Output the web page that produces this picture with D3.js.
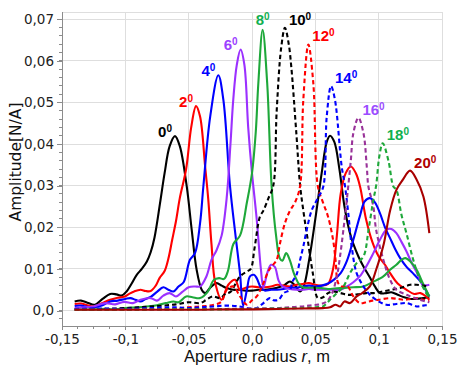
<!DOCTYPE html>
<html><head><meta charset="utf-8">
<script src="https://cdn.jsdelivr.net/npm/d3@7"></script>
<style>body{margin:0;background:#fff}svg{display:block}</style>
</head><body><svg id="c" width="459" height="370"></svg>
<script>
// ---- data ----
const angles = ["0","2","4","6","8","10","12","14","16","18","20"];
const xTicks = [-0.15,-0.1,-0.05,0,0.05,0.1,0.15];
const xTickLabels = ["-0,15","-0,1","-0,05","0,0","0,05","0,1","0,15"];
const yTicks = [0,0.01,0.02,0.03,0.04,0.05,0.06,0.07];
const yTickLabels = ["0,0","0,01","0,02","0,03","0,04","0,05","0,06","0,07"];

const s0 = [[-0.14,0.0022],[-0.135,0.0024],[-0.13,0.0019],[-0.124,0.0014],[-0.118,0.0028],[-0.112,0.0040],[-0.107,0.0039],[-0.103,0.0036],[-0.099,0.0046],[-0.095,0.0065],[-0.091,0.0086],[-0.087,0.0100],[-0.083,0.0118],[-0.080,0.0140],[-0.077,0.0175],[-0.0726,0.0258],[-0.069,0.0330],[-0.065,0.0395],[-0.0608,0.0419],[-0.057,0.0395],[-0.0516,0.0300],[-0.0476,0.0194],[-0.0437,0.0098],[-0.0397,0.0050],[-0.037,0.0042],[-0.033,0.0055],[-0.028,0.0066],[-0.024,0.0060],[-0.020,0.0054],[-0.015,0.0050],[-0.010,0.0050],[-0.005,0.0048],[0.0,0.0048],[0.005,0.0050],[0.01,0.0050],[0.015,0.0052],[0.02,0.0055],[0.025,0.0060],[0.03,0.0070],[0.034,0.0060],[0.038,0.0046],[0.041,0.0060],[0.045,0.0120],[0.050,0.0220],[0.055,0.0330],[0.059,0.0405],[0.0616,0.0420],[0.065,0.0405],[0.069,0.0340],[0.073,0.0250],[0.077,0.0190],[0.080,0.0160],[0.084,0.0130],[0.088,0.0106],[0.093,0.0080],[0.097,0.0058],[0.101,0.0042],[0.106,0.0042],[0.110,0.0044],[0.115,0.0038],[0.120,0.0032],[0.125,0.0028],[0.130,0.0028],[0.135,0.0030],[0.140,0.0032]];
const s2 = [[-0.14,0.0016],[-0.135,0.0017],[-0.13,0.0013],[-0.125,0.0010],[-0.119,0.0017],[-0.112,0.0026],[-0.106,0.0031],[-0.101,0.0033],[-0.097,0.0040],[-0.093,0.0046],[-0.088,0.0050],[-0.084,0.0047],[-0.080,0.0047],[-0.076,0.0060],[-0.073,0.0078],[-0.069,0.0095],[-0.066,0.0125],[-0.063,0.0170],[-0.060,0.0215],[-0.057,0.0270],[-0.052,0.0340],[-0.048,0.0440],[-0.0442,0.0491],[-0.041,0.0466],[-0.037,0.0346],[-0.0345,0.0266],[-0.032,0.0160],[-0.029,0.0066],[-0.024,0.0026],[-0.0187,0.0062],[-0.0134,0.0074],[-0.0095,0.0050],[-0.005,0.0055],[0.0,0.0058],[0.005,0.0056],[0.01,0.0056],[0.015,0.0058],[0.02,0.0062],[0.025,0.0060],[0.03,0.0058],[0.035,0.0062],[0.04,0.0064],[0.045,0.0066],[0.05,0.0062],[0.055,0.0060],[0.060,0.0064],[0.064,0.0100],[0.067,0.0180],[0.070,0.0280],[0.074,0.0330],[0.078,0.0346],[0.082,0.0330],[0.0853,0.0298],[0.090,0.0220],[0.095,0.0165],[0.100,0.0130],[0.105,0.0110],[0.109,0.0090],[0.115,0.0065],[0.122,0.0050],[0.128,0.0040],[0.133,0.0042],[0.137,0.0035],[0.140,0.0026]];
const s4 = [[-0.14,0.0011],[-0.135,0.0012],[-0.13,0.0009],[-0.125,0.0008],[-0.118,0.0013],[-0.112,0.0022],[-0.106,0.0024],[-0.100,0.0028],[-0.096,0.0030],[-0.092,0.0026],[-0.088,0.0022],[-0.084,0.0028],[-0.080,0.0033],[-0.075,0.0045],[-0.070,0.0056],[-0.066,0.0050],[-0.062,0.0046],[-0.058,0.0058],[-0.054,0.0068],[-0.049,0.0122],[-0.045,0.0138],[-0.041,0.0210],[-0.0384,0.0298],[-0.033,0.0466],[-0.0266,0.0565],[-0.0226,0.0506],[-0.0174,0.0300],[-0.013,0.0180],[-0.0095,0.0090],[-0.007,0.0012],[-0.004,0.0050],[-0.0016,0.0082],[0.0015,0.0086],[0.0037,0.0078],[0.007,0.0055],[0.01,0.0048],[0.015,0.0050],[0.02,0.0050],[0.025,0.0052],[0.03,0.0055],[0.035,0.0055],[0.04,0.0058],[0.045,0.0060],[0.05,0.0058],[0.055,0.0060],[0.060,0.0065],[0.065,0.0075],[0.070,0.0090],[0.075,0.0120],[0.080,0.0170],[0.085,0.0225],[0.089,0.0262],[0.093,0.0270],[0.097,0.0260],[0.101,0.0234],[0.105,0.0200],[0.109,0.0174],[0.113,0.0148],[0.117,0.0126],[0.122,0.0105],[0.127,0.0090],[0.133,0.0070],[0.137,0.0050],[0.140,0.0034]];
const s6 = [[-0.14,0.0006],[-0.132,0.0008],[-0.125,0.0010],[-0.119,0.0016],[-0.115,0.0018],[-0.108,0.0015],[-0.101,0.0021],[-0.094,0.0018],[-0.088,0.0026],[-0.080,0.0030],[-0.075,0.0024],[-0.070,0.0036],[-0.065,0.0042],[-0.060,0.0034],[-0.055,0.0045],[-0.050,0.0056],[-0.045,0.0058],[-0.041,0.0058],[-0.036,0.0082],[-0.032,0.0122],[-0.028,0.0145],[-0.024,0.0180],[-0.020,0.0270],[-0.017,0.0400],[-0.0148,0.0506],[-0.012,0.0590],[-0.009,0.0627],[-0.006,0.0590],[-0.003,0.0440],[0.0,0.0330],[0.0037,0.0220],[0.007,0.0100],[0.009,0.0055],[0.012,0.0090],[0.015,0.0110],[0.018,0.0105],[0.021,0.0072],[0.024,0.0058],[0.03,0.0052],[0.035,0.0050],[0.04,0.0050],[0.045,0.0052],[0.05,0.0050],[0.055,0.0050],[0.06,0.0050],[0.065,0.0050],[0.0695,0.0050],[0.075,0.0058],[0.080,0.0068],[0.085,0.0082],[0.090,0.0105],[0.0958,0.0138],[0.101,0.0170],[0.106,0.0194],[0.110,0.0196],[0.114,0.0186],[0.118,0.0165],[0.122,0.0142],[0.126,0.0115],[0.131,0.0086],[0.135,0.0062],[0.140,0.0062]];
const s8 = [[-0.14,0.0002],[-0.125,0.0003],[-0.115,0.0004],[-0.11,0.0003],[-0.1,0.0006],[-0.09,0.0008],[-0.083,0.0010],[-0.075,0.0013],[-0.068,0.0018],[-0.062,0.0022],[-0.058,0.0020],[-0.052,0.0034],[-0.047,0.0032],[-0.041,0.0030],[-0.035,0.0045],[-0.030,0.0074],[-0.026,0.0078],[-0.022,0.0076],[-0.019,0.0095],[-0.0147,0.0160],[-0.0095,0.0180],[-0.004,0.0260],[0.0,0.0330],[0.003,0.0430],[0.005,0.0546],[0.0084,0.0674],[0.012,0.0546],[0.0155,0.0298],[0.019,0.0180],[0.022,0.0125],[0.024,0.0120],[0.027,0.0138],[0.030,0.0120],[0.033,0.0090],[0.037,0.0064],[0.040,0.0056],[0.045,0.0055],[0.05,0.0055],[0.055,0.0054],[0.06,0.0052],[0.065,0.0053],[0.0695,0.0054],[0.075,0.0055],[0.080,0.0056],[0.088,0.0058],[0.095,0.0068],[0.1037,0.0082],[0.109,0.0098],[0.114,0.0110],[0.118,0.0122],[0.121,0.0126],[0.125,0.0118],[0.130,0.0098],[0.135,0.0065],[0.140,0.0034]];
const s10 = [[-0.14,0.0003],[-0.12,0.0004],[-0.1,0.0006],[-0.09,0.0008],[-0.08,0.0010],[-0.07,0.0012],[-0.06,0.0015],[-0.05,0.0020],[-0.041,0.0018],[-0.036,0.0026],[-0.031,0.0034],[-0.025,0.0030],[-0.021,0.0040],[-0.017,0.0045],[-0.0095,0.0082],[-0.004,0.0094],[-0.001,0.0100],[0.002,0.0150],[0.0063,0.0226],[0.009,0.0240],[0.013,0.0270],[0.0168,0.0300],[0.0195,0.0480],[0.023,0.0630],[0.026,0.0679],[0.029,0.0640],[0.031,0.0586],[0.035,0.0426],[0.038,0.0300],[0.041,0.0230],[0.044,0.0170],[0.048,0.0090],[0.052,0.0030],[0.056,0.0032],[0.060,0.0042],[0.064,0.0046],[0.07,0.0042],[0.075,0.0038],[0.08,0.0038],[0.085,0.0040],[0.09,0.0042],[0.0958,0.0042],[0.1037,0.0046],[0.11,0.0050],[0.117,0.0054],[0.125,0.0062],[0.13,0.0062],[0.135,0.0060],[0.14,0.0058]];
const s12 = [[-0.14,0.0002],[-0.12,0.0002],[-0.1,0.0003],[-0.08,0.0004],[-0.06,0.0005],[-0.05,0.0008],[-0.04,0.0010],[-0.03,0.0014],[-0.024,0.0022],[-0.020,0.0050],[-0.0147,0.0058],[-0.0095,0.0034],[-0.004,0.0014],[0.0,0.0025],[0.0037,0.0034],[0.009,0.0066],[0.013,0.0095],[0.0155,0.0106],[0.0195,0.0122],[0.022,0.0160],[0.026,0.0210],[0.030,0.0240],[0.034,0.0260],[0.0379,0.0298],[0.0405,0.0506],[0.0445,0.0639],[0.0484,0.0546],[0.052,0.0298],[0.056,0.0260],[0.060,0.0226],[0.064,0.0170],[0.066,0.0120],[0.068,0.0066],[0.071,0.0058],[0.075,0.0060],[0.08,0.0034],[0.085,0.0018],[0.09,0.0020],[0.095,0.0024],[0.1,0.0026],[0.109,0.0030],[0.115,0.0028],[0.12,0.0026],[0.125,0.0028],[0.13,0.0030],[0.135,0.0026],[0.14,0.0024]];
const s14 = [[-0.14,0.0004],[-0.12,0.0005],[-0.1,0.0004],[-0.08,0.0006],[-0.06,0.0008],[-0.05,0.0006],[-0.04,0.0008],[-0.03,0.0010],[-0.02,0.0012],[-0.01,0.0010],[-0.004,0.0006],[0.0037,0.0006],[0.009,0.0018],[0.014,0.0030],[0.017,0.0025],[0.021,0.0026],[0.025,0.0042],[0.030,0.0050],[0.032,0.0070],[0.035,0.0085],[0.038,0.0122],[0.0405,0.0154],[0.0432,0.0194],[0.047,0.0240],[0.052,0.0270],[0.0563,0.0298],[0.059,0.0466],[0.0624,0.0539],[0.0655,0.0506],[0.0708,0.0346],[0.0734,0.0300],[0.076,0.0234],[0.0787,0.0154],[0.0826,0.0090],[0.088,0.0058],[0.093,0.0038],[0.098,0.0026],[0.106,0.0014],[0.114,0.0016],[0.122,0.0018],[0.13,0.0010],[0.135,0.0012],[0.14,0.0014]];
const s16 = [[-0.14,0.0002],[-0.1,0.0002],[-0.06,0.0003],[-0.02,0.0004],[0.0,0.0005],[0.02,0.0006],[0.03,0.0008],[0.04,0.0010],[0.045,0.0012],[0.051,0.0014],[0.055,0.0016],[0.059,0.0022],[0.063,0.0040],[0.067,0.0082],[0.0695,0.0130],[0.072,0.0190],[0.075,0.0270],[0.078,0.0360],[0.080,0.0426],[0.084,0.0463],[0.088,0.0426],[0.0906,0.0346],[0.0919,0.0298],[0.0958,0.0250],[0.098,0.0194],[0.1037,0.0122],[0.109,0.0074],[0.114,0.0050],[0.122,0.0038],[0.1326,0.0026],[0.14,0.0020]];
const s18 = [[-0.14,0.0002],[-0.1,0.0002],[-0.06,0.0003],[-0.02,0.0003],[0.0,0.0004],[0.02,0.0005],[0.04,0.0006],[0.05,0.0008],[0.056,0.0010],[0.0616,0.0026],[0.067,0.0042],[0.0722,0.0058],[0.0774,0.0090],[0.0826,0.0114],[0.088,0.0130],[0.092,0.0194],[0.0958,0.0266],[0.098,0.0300],[0.1005,0.0370],[0.1032,0.0402],[0.1077,0.0360],[0.1116,0.0298],[0.114,0.0290],[0.118,0.0230],[0.122,0.0185],[0.127,0.0125],[0.132,0.0078],[0.136,0.0050],[0.14,0.0030]];
const s20 = [[-0.14,0.0002],[-0.12,0.0002],[-0.1,0.0002],[-0.08,0.0002],[-0.06,0.0002],[-0.04,0.0002],[-0.02,0.0003],[0.0,0.0003],[0.02,0.0004],[0.04,0.0005],[0.056,0.0006],[0.0616,0.0008],[0.066,0.0014],[0.0695,0.0010],[0.073,0.0022],[0.0774,0.0018],[0.0826,0.0034],[0.087,0.0042],[0.093,0.0058],[0.098,0.0098],[0.104,0.0160],[0.109,0.0240],[0.114,0.0290],[0.119,0.0314],[0.1248,0.0336],[0.13,0.0314],[0.1353,0.0274],[0.14,0.0186]];
const seriesValues = [s0,s2,s4,s6,s8,s10,s12,s14,s16,s18,s20];

// ---- styles ----
const lineColors = ["#000000","#ff0000","#0000ff","#9b30ff","#1ea83a","#000000","#ff0000","#0000ff","#993399","#1ea83a","#a80000"];
const labelColors = ["#000000","#ff0000","#0000ff","#9b40ff","#10b050","#000000","#ff0000","#0000ff","#9b4dff","#10b050","#b00000"];
const dashed = [false,false,false,false,false,true,true,true,true,true,false];

const svg = d3.select("#c");
const L=62,R=442,T=12,B=326;
const x = d3.scaleLinear().domain([-0.15,0.15]).range([L,R]);
const y = d3.scaleLinear().domain([-0.0037,0.0717]).range([B,T]);

// grid
const g = svg.append("g");
g.selectAll(".vg").data(xTicks.slice(1)).join("line")
  .attr("x1",d=>x(d)).attr("x2",d=>x(d)).attr("y1",T).attr("y2",B)
  .attr("stroke","#dedede").attr("stroke-width",1).attr("shape-rendering","crispEdges");
g.selectAll(".hg").data(yTicks).join("line")
  .attr("x1",L).attr("x2",R).attr("y1",d=>y(d)).attr("y2",d=>y(d))
  .attr("stroke","#dedede").attr("stroke-width",1).attr("shape-rendering","crispEdges");
g.append("line").attr("x1",L).attr("x2",R).attr("y1",T).attr("y2",T)
  .attr("stroke","#dedede").attr("shape-rendering","crispEdges");

// axes
const fmtY = d3.scaleOrdinal().domain(yTicks).range(yTickLabels);
const fmtX = d3.scaleOrdinal().domain(xTicks).range(xTickLabels);
const yAxis = d3.axisLeft(y).tickValues(yTicks).tickFormat(d=>fmtY(d)).tickSize(5).tickPadding(3);
const xAxis = d3.axisBottom(x).tickValues(xTicks).tickFormat(d=>fmtX(d)).tickSize(4).tickPadding(4);
const ya = svg.append("g").attr("transform",`translate(${L},0)`).call(yAxis);
const xa = svg.append("g").attr("transform",`translate(0,${B})`).call(xAxis);
ya.select(".domain").attr("d",`M0,${T}V${B}`);
xa.select(".domain").attr("d",`M${L},0H${R}`);
[ya,xa].forEach(a=>{
  a.selectAll(".domain,.tick line").attr("stroke","#8c8c8c").attr("shape-rendering","crispEdges");
  a.selectAll("text").attr("fill","#222").style("font-family","'DejaVu Sans'").style("font-size","13.5px");
});
// minor ticks
const yMinor = d3.range(-0.002,0.0717,0.002).filter(v=>v>-0.0037);
svg.append("g").selectAll("line").data(yMinor).join("line")
  .attr("x1",L-3).attr("x2",L).attr("y1",d=>y(d)).attr("y2",d=>y(d))
  .attr("stroke","#8c8c8c").attr("shape-rendering","crispEdges");
const xMinor = d3.range(-0.15,0.1501,0.0125);
svg.append("g").selectAll("line").data(xMinor).join("line")
  .attr("x1",d=>x(d)).attr("x2",d=>x(d)).attr("y1",B).attr("y2",B+2.5)
  .attr("stroke","#8c8c8c").attr("shape-rendering","crispEdges");

// clip
svg.append("clipPath").attr("id","clip").append("rect").attr("x",L).attr("y",T).attr("width",R-L).attr("height",B-T);

// lines
const line = d3.line().x(d=>x(d[0])).y(d=>y(d[1])).curve(d3.curveCatmullRom.alpha(0.5));
const lg = svg.append("g").attr("clip-path","url(#clip)");
seriesValues.forEach((s,i)=>{
  lg.append("path").datum(s).attr("d",line).attr("fill","none")
    .attr("stroke",lineColors[i]).attr("stroke-width",2.1)
    .attr("stroke-linejoin","round")
    .attr("stroke-dasharray",dashed[i]?"4.5,3":null);
});

// labels at main peaks (solid 0-8 deg: left peak)
seriesValues.forEach((s,i)=>{
  const pool = i<5 ? s.filter(d=>d[0]<0.03) : s;
  const pk = pool.reduce((a,b)=>b[1]>a[1]?b:a);
  let px=x(pk[0]), py=y(pk[1]), anchor;
  if(i<4){anchor="end"; px-=3; py+=1;}
  else if(i===4){anchor="middle"; py-=5;}
  else {anchor="start"; px+=4; py-=3;}
  const t = svg.append("text").attr("x",px).attr("y",py).attr("text-anchor",anchor)
    .attr("fill",labelColors[i]).style("font-family","'Liberation Sans', Arial, sans-serif")
    .style("font-weight","bold").style("font-size","15px");
  t.append("tspan").text(angles[i]);
  t.append("tspan").attr("dy",-5).style("font-size","10px").text("0");
});

// axis titles
const xt = svg.append("text").attr("x",(L+R)/2+5).attr("y",362).attr("text-anchor","middle")
  .style("font-family","'Liberation Sans', Arial, sans-serif").style("font-size","16.5px").attr("fill","#111");
xt.append("tspan").text("Aperture radius ");
xt.append("tspan").style("font-style","italic").text("r");
xt.append("tspan").text(", m");
svg.append("text").attr("transform","translate(21,162) rotate(-90)").attr("text-anchor","middle")
  .style("font-family","'DejaVu Sans'").style("font-size","15.5px").attr("fill","#111")
  .text("Amplitude[N/A]");
</script></body></html>
